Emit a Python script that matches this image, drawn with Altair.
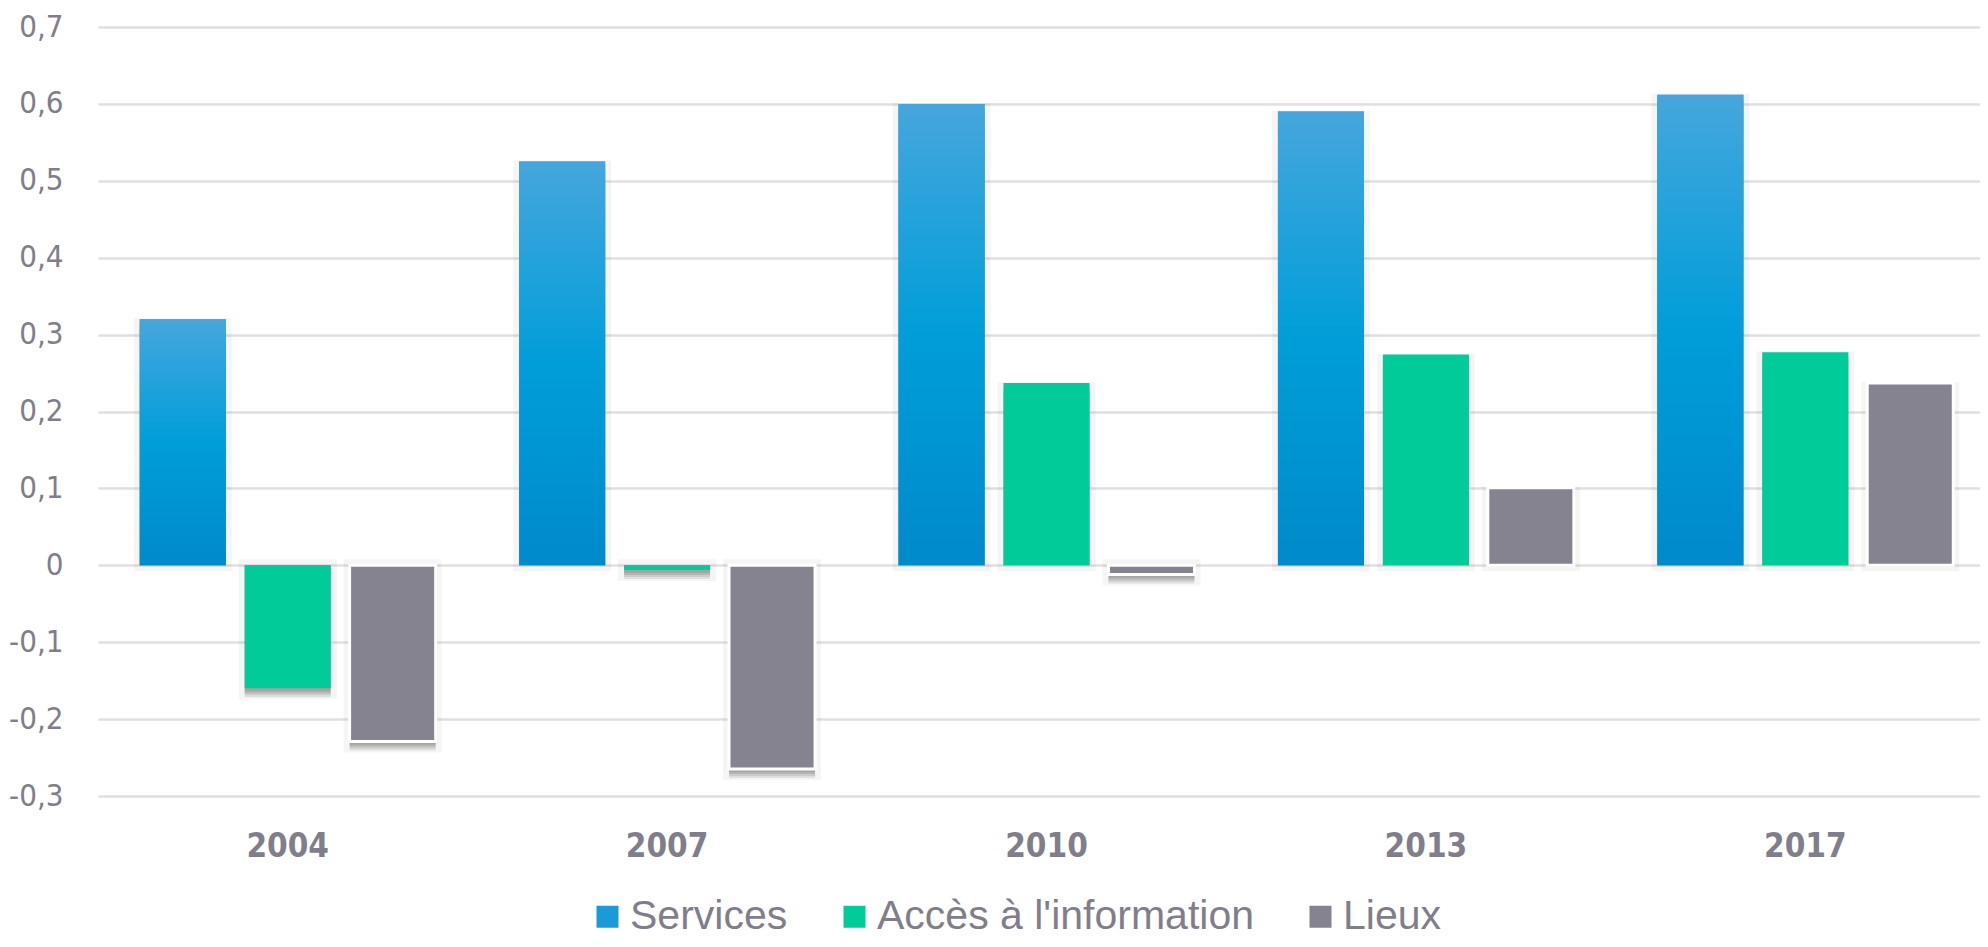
import altair as alt
import pandas as pd

years = ["2004", "2007", "2010", "2013", "2017"]
series = ["Services", "Accès à l'information", "Lieux"]
services = [0.320, 0.525, 0.600, 0.590, 0.612]
acces = [-0.160, -0.006, 0.237, 0.274, 0.277]
lieux = [-0.229, -0.265, -0.012, 0.101, 0.237]
colors = ["#1a9ad8", "#00cb99", "#84838f"]
y_ticks = [-0.3, -0.2, -0.1, 0.0, 0.1, 0.2, 0.3, 0.4, 0.5, 0.6, 0.7]

rows = []
for s, vals in zip(series, [services, acces, lieux]):
    for yr, v in zip(years, vals):
        rows.append({"year": yr, "serie": s, "value": v})
df = pd.DataFrame(rows)

TXT = "#7f7e8a"
NARROW = "DejaVu Sans Condensed, Liberation Sans Narrow, Liberation Sans, Arial"

x = alt.X("year:N", sort=years, title=None,
          scale=alt.Scale(range=[0, 1897], paddingInner=0.22, paddingOuter=0.11),
          axis=alt.Axis(labelAngle=0, domain=False, ticks=False, tickSize=0,
                        labelFont=NARROW, labelFontWeight="bold", labelFontSize=33,
                        labelColor=TXT, labelPadding=34))
xo = alt.XOffset("serie:N", sort=series,
                 scale=alt.Scale(domain=series, paddingInner=0.18, paddingOuter=0))
y = alt.Y("value:Q", title=None,
          scale=alt.Scale(domain=[-0.3, 0.7], nice=False),
          axis=alt.Axis(values=y_ticks, domain=False, ticks=False, tickSize=0,
                        labelExpr="datum.value == 0 ? '0' : replace(replace(format(datum.value, '.1f'), '.', ','), '\u2212', '-')",
                        labelFont=NARROW, labelFontSize=31, labelColor=TXT, labelPadding=35,
                        grid=True, gridColor="#e0e0e0", gridWidth=2.5))

base = alt.Chart(df).encode(x=x, xOffset=xo, y=y, y2=alt.datum(0))

# soft shadow: a wide faint halo plus a few stacked offsets that darken toward the bottom
halo = base.mark_bar(fill="#000000", fillOpacity=0.03, yOffset=5,
                     stroke="#000000", strokeOpacity=0.04, strokeWidth=12)
shadows = [base.mark_bar(fill="#000000", fillOpacity=0.085, yOffset=off)
           for off in (3, 5, 7, 9)]

main = base.mark_bar().encode(
    color=alt.Color("serie:N", sort=series,
                    scale=alt.Scale(domain=series, range=colors),
                    legend=alt.Legend(title=None, orient="none", direction="horizontal",
                                      legendX=489, legendY=869,
                                      symbolType="square", symbolSize=484,
                                      symbolStrokeWidth=0, labelFont="Liberation Sans, Arial",
                                      labelFontSize=41, labelColor=TXT, labelOffset=2,
                                      columnPadding=46, padding=0, labelLimit=600)),
    stroke=alt.condition(alt.datum.serie == "Lieux", alt.value("white"), alt.value(None)),
    strokeWidth=alt.condition(alt.datum.serie == "Lieux", alt.value(3), alt.value(0)),
)

grad = alt.Gradient(gradient="linear", x1=0, x2=0, y1=0, y2=1,
                    stops=[alt.GradientStop(offset=0, color="#46a6dd"),
                           alt.GradientStop(offset=0.5, color="#009ed9"),
                           alt.GradientStop(offset=1, color="#008acb")])
serv = base.transform_filter(alt.datum.serie == "Services").mark_bar(fill=grad)

chart = alt.layer(halo, *shadows, main, serv).properties(
    width=1882, height=769,
    autosize=alt.AutoSizeParams(type="none"),
    padding={"left": 90, "top": 19, "right": 0, "bottom": 143},
).configure_view(stroke=None)

chart.save("out.html", embed_options={"renderer": "svg", "actions": False})
